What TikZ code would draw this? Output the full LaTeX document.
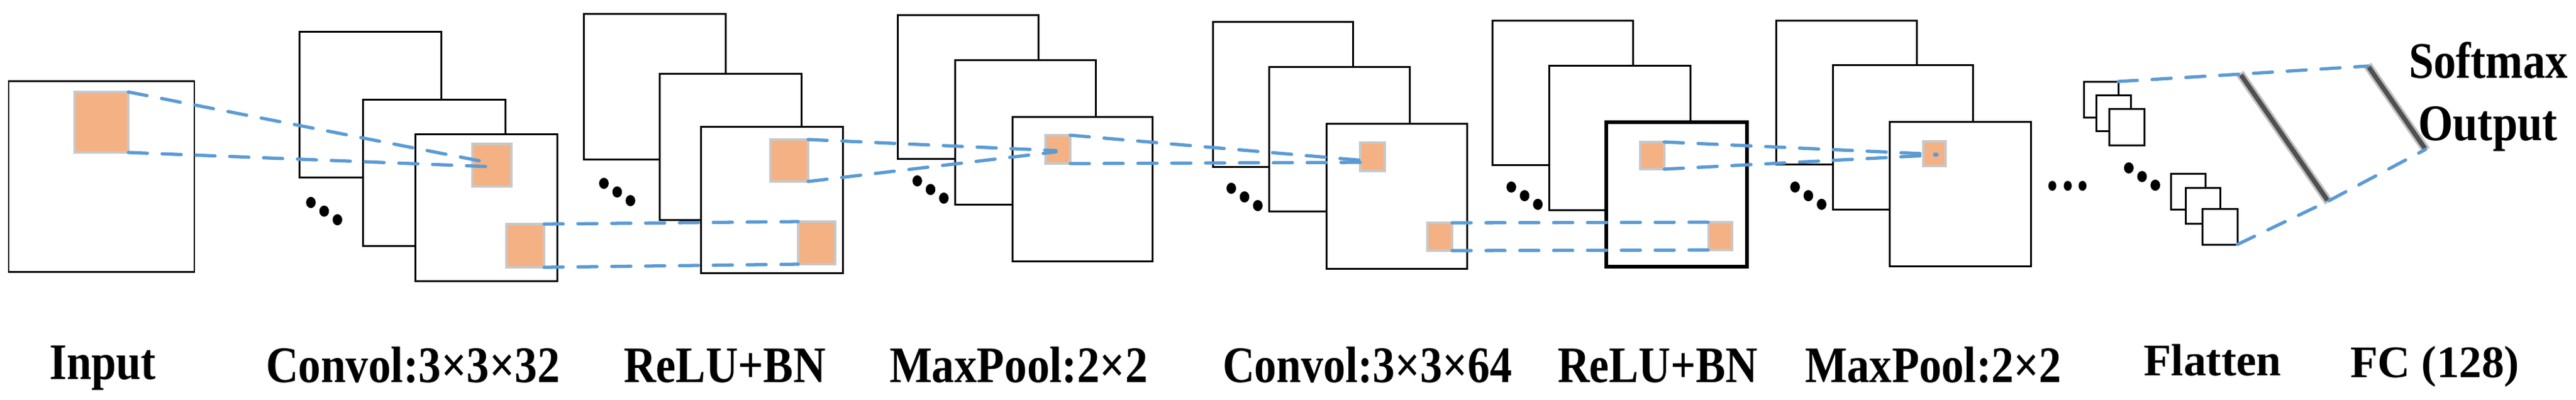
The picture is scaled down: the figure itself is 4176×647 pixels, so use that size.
\documentclass[tikz,border=0pt]{standalone}
\usepackage{fontspec}
\setmainfont{Liberation Serif}
\usepackage{graphicx}
\definecolor{lineblue}{HTML}{5B9BD5}
\definecolor{patchfill}{HTML}{F4B183}
\definecolor{patchedge}{HTML}{C8C8C8}
\definecolor{bardark}{HTML}{505050}
\definecolor{baredge}{HTML}{BFBFBF}
\newcommand\mkfm[6][]{\node[fmap,#1,minimum width={(#5-#3)*0.01cm},minimum height={(#6-#4)*0.01cm}] (#2) at (#3,#4) {};}
\newcommand\mkpt[5]{\node[patch,minimum width={(#4-#2)*0.01cm},minimum height={(#5-#3)*0.01cm}] (#1) at (#2,#3) {};}
\newcommand\diagdots[2]{%
  \fill (#1,#2) ellipse [x radius=0.078cm, y radius=0.09cm];
  \fill ({#1+21.5},{#2+14}) ellipse [x radius=0.078cm, y radius=0.09cm];
  \fill ({#1+43},{#2+28}) ellipse [x radius=0.078cm, y radius=0.09cm];}
\begin{document}
\begin{tikzpicture}[x=0.01cm,y=-0.01cm,
  fmap/.style={draw=black, line width=0.85pt, fill=white, rectangle, inner sep=0pt, outer sep=0pt, anchor=north west},
  thickfm/.style={line width=1.6pt},
  patch/.style={draw=patchedge, line width=1.1pt, fill=patchfill, rectangle, inner sep=0pt, outer sep=0pt, anchor=north west},
  conn/.style={draw=lineblue, line width=1.5pt, line cap=round, dash pattern=on 8.8pt off 6.8pt},
  fcbar/.style={draw=baredge, fill=bardark, line width=0.9pt, rectangle, inner sep=0pt, outer sep=0pt, minimum height=0.11cm},
  lbl/.style={anchor=base west, inner sep=0pt, outer sep=0pt, font=\fontsize{23.6}{28}\selectfont\bfseries},
  lblsmall/.style={anchor=base west, inner sep=0pt, outer sep=0pt, font=\fontsize{20.8}{25}\selectfont\bfseries}
]
\useasboundingbox (0,0) rectangle (4176,647);

% Input
\mkfm{inp}{14}{131}{315}{440}
\mkpt{p0}{121}{149}{208}{247}

% Convol 3x3x32
\mkfm{cva}{485}{51}{715}{287}
\mkfm{cvb}{588}{161}{819}{398}
\mkfm{cvc}{673}{217}{903}{455}
\mkpt{p1}{766}{233}{829}{302}
\mkpt{p2}{821}{363}{882}{433}
\diagdots{504}{328}

% ReLU+BN
\mkfm{rla}{946}{22}{1176}{258}
\mkfm{rlb}{1069}{119}{1299}{356}
\mkfm{rlc}{1136}{205}{1366}{442}
\mkpt{p3}{1249}{226}{1310}{294}
\mkpt{p4}{1294}{359}{1354}{428}
\diagdots{979}{297}

% MaxPool 2x2
\mkfm{mpa}{1455}{24}{1683}{257}
\mkfm{mpb}{1548}{97}{1776}{331}
\mkfm{mpc}{1641}{189}{1868}{423}
\mkpt{p5}{1695}{219}{1735}{265}
\diagdots{1487}{293}

% Convol 3x3x64
\mkfm{cwa}{1966}{35}{2193}{270}
\mkfm{cwb}{2057}{108}{2285}{342}
\mkfm{cwc}{2150}{200}{2378}{435}
\mkpt{p6}{2205}{231}{2245}{277}
\mkpt{p7}{2314}{361}{2354}{406}
\diagdots{1996}{305}

% ReLU+BN 2
\mkfm{rma}{2419}{33}{2647}{267}
\mkfm{rmb}{2511}{106}{2740}{340}
\mkfm[thickfm]{rmc}{2604}{198}{2832}{432}
\mkpt{p8}{2659}{230}{2698}{274}
\mkpt{p9}{2770}{360}{2808}{405}
\diagdots{2450}{303}

% MaxPool 2
\mkfm{mqa}{2879}{33}{3107}{266}
\mkfm{mqb}{2971}{105}{3198}{339}
\mkfm{mqc}{3063}{197}{3292}{431}
\mkpt{p10}{3118}{229}{3154}{269}
\diagdots{2910}{303}

% horizontal dots
\fill (3327,301) ellipse [x radius=0.065cm, y radius=0.08cm];
\fill (3352,301) ellipse [x radius=0.065cm, y radius=0.08cm];
\fill (3376,301) ellipse [x radius=0.065cm, y radius=0.08cm];

% Flatten
\mkfm{fua}{3378}{132}{3434}{190}
\mkfm{fub}{3398}{154}{3454}{212}
\mkfm{fuc}{3419}{176}{3476}{235}
\mkfm{fla}{3519}{281}{3575}{339}
\mkfm{flb}{3543}{304}{3599}{362}
\mkfm{flc}{3570}{338}{3627}{396}
\diagdots{3451}{272}

% FC bars
\node[fcbar, minimum width=2.50cm, rotate=-55.4] (fc1) at (3703,223) {};
\node[fcbar, minimum width=1.64cm, rotate=-55.4] (fc2) at (3885.5,174.5) {};

% convergence points
\coordinate (c1a) at (785,262);
\coordinate (c1b) at (794,270);
\coordinate (c3a) at (1712,244);
\coordinate (c3b) at (1712,246);
\coordinate (c6a) at (2210,260);
\coordinate (c6b) at (2205,263);
\coordinate (c10a) at (3140,250);
\coordinate (c10b) at (3140,251);

% connectors
\draw[conn] (p0.north east) -- (c1a);
\draw[conn] (p0.south east) -- (c1b);
\draw[conn] (p2.north east) -- (p4.north west);
\draw[conn] (p2.south east) -- (p4.south west);
\draw[conn] (p3.north east) -- (c3a);
\draw[conn] (p3.south east) -- (c3b);
\draw[conn] (p5.north east) -- (c6a);
\draw[conn] (p5.south east) -- (c6b);
\draw[conn] (p7.north east) -- (p9.north west);
\draw[conn] (p7.south east) -- (p9.south west);
\draw[conn] (p8.north east) -- (c10a);
\draw[conn] (p8.south east) -- (c10b);
\draw[conn] (fua.north east) -- (fc1.west) -- (fc2.west);
\draw[conn] (flc.south east) -- (fc1.east) -- (fc2.east);

% labels
\node[lbl] (tin) at (80,614) {\scalebox{0.87}[1]{Input}};
\node[lbl] (tc1) at (431,619) {\scalebox{0.88}[1]{Convol:3×3×32}};
\node[lbl] (tr1) at (1011,619) {\scalebox{0.875}[1]{ReLU+BN}};
\node[lbl] (tm1) at (1442,619) {\scalebox{0.88}[1]{MaxPool:2×2}};
\node[lbl] (tc2) at (1982,619) {\scalebox{0.866}[1]{Convol:3×3×64}};
\node[lbl] (tr2) at (2525,619) {\scalebox{0.867}[1]{ReLU+BN}};
\node[lbl] (tm2) at (2926,619) {\scalebox{0.874}[1]{MaxPool:2×2}};
\node[lblsmall] (tfl) at (3475,608) {Flatten};
\node[lblsmall] (tfc) at (3810,611) {FC (128)};
\node[lbl] (tsm) at (3905,126) {\scalebox{0.874}[1]{Softmax}};
\node[lbl] (tou) at (3920,227) {\scalebox{0.875}[1]{Output}};
\end{tikzpicture}
\end{document}
